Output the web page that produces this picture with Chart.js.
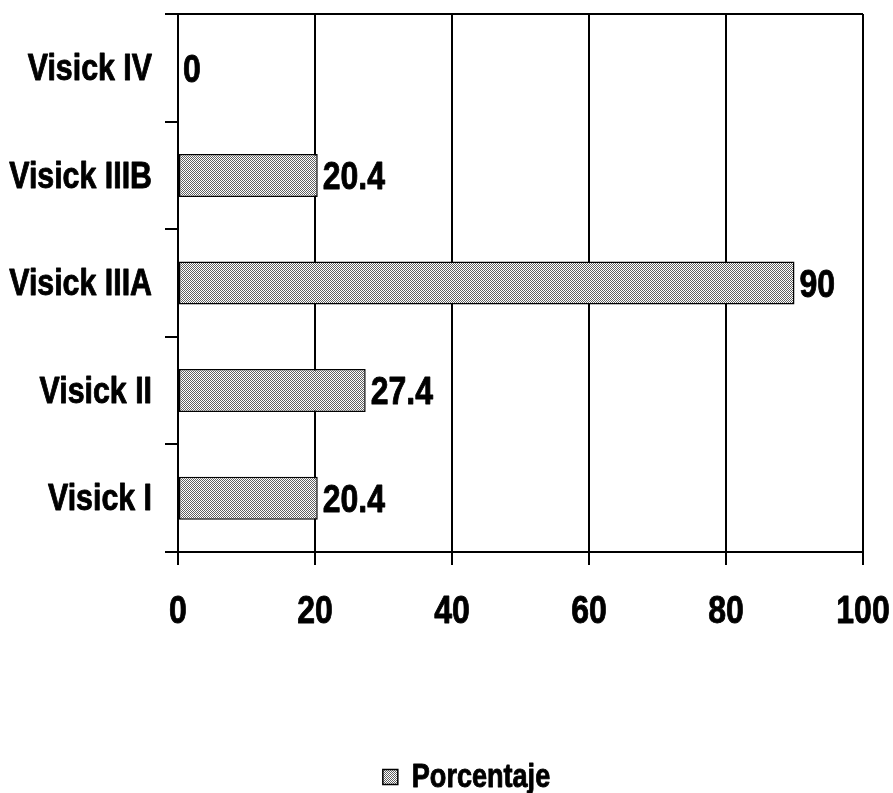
<!DOCTYPE html>
<html>
<head>
<meta charset="utf-8">
<script src="https://cdn.jsdelivr.net/npm/chart.js@4/dist/chart.umd.min.js"></script>
<style>
  html, body { margin: 0; padding: 0; background: #ffffff; }
  #wrap { width: 893px; height: 793px; }
</style>
</head>
<body>
<div id="wrap"><canvas id="c" width="893" height="793"></canvas></div>
<script>
// Categories (top to bottom) and their percentages
const categories = ['Visick IV', 'Visick IIIB', 'Visick IIIA', 'Visick II', 'Visick I'];
const porcentaje = [0, 20.4, 90, 27.4, 20.4];
const xTicks = [0, 20, 40, 60, 80, 100];
const seriesName = 'Porcentaje';

const FONT = '"Liberation Sans", Arial, sans-serif';
const NARROW = 0.82; // horizontal squeeze for the condensed bold lettering

// Fine checkered fill for the bars
function makePattern() {
  const p = document.createElement('canvas');
  p.width = 2; p.height = 2;
  const g = p.getContext('2d');
  g.fillStyle = '#ffffff'; g.fillRect(0, 0, 2, 2);
  g.fillStyle = '#606060';
  g.fillRect(0, 0, 1, 1);
  g.fillRect(1, 1, 1, 1);
  return g.createPattern(p, 'repeat');
}
const fill = makePattern();

// Draws heavy text squeezed horizontally around its anchor
function narrowText(ctx, text, x, y, align) {
  ctx.save();
  ctx.translate(x, y);
  ctx.scale(NARROW, 1);
  ctx.textAlign = align;
  ctx.strokeStyle = '#000';
  ctx.lineWidth = 0.9;
  ctx.lineJoin = 'round';
  ctx.strokeText(text, 0, 0);
  ctx.fillText(text, 0, 0);
  ctx.restore();
}

// Axis tick labels, bar values and the series key in condensed bold
const condensedText = {
  id: 'condensedText',
  afterDraw(chart) {
    const ctx = chart.ctx;
    const xs = chart.scales.x, ys = chart.scales.y;
    ctx.save();
    ctx.fillStyle = '#000';
    ctx.textBaseline = 'middle';

    ctx.font = 'bold 37px ' + FONT;
    chart.data.labels.forEach((lab, i) => {
      narrowText(ctx, lab, ys.right - 26, ys.getPixelForTick(i) + 2, 'right');
    });

    ctx.font = 'bold 39px ' + FONT;
    xTicks.forEach(v => {
      narrowText(ctx, String(v), xs.getPixelForValue(v), xs.top + 60, 'center');
    });

    const ds = chart.data.datasets[0];
    const meta = chart.getDatasetMeta(0);
    meta.data.forEach((bar, i) => {
      narrowText(ctx, String(ds.data[i]), bar.x + 5, bar.y + 3, 'left');
    });

    // series key below the axis
    ctx.font = 'bold 33px ' + FONT;
    const textW = ctx.measureText(ds.label).width * NARROW;
    const box = 15, gap = 14;
    const total = box + gap + textW;
    const cx = chart.width / 2 + 20;
    const ky = xs.top + 225;
    const kx = cx - total / 2;
    ctx.fillStyle = ds.backgroundColor;
    ctx.fillRect(kx, ky - box / 2, box, box);
    ctx.strokeStyle = '#000';
    ctx.lineWidth = 1.5;
    ctx.strokeRect(kx, ky - box / 2, box, box);
    ctx.fillStyle = '#000';
    narrowText(ctx, ds.label, kx + box + gap, ky + 1, 'left');
    ctx.restore();
  }
};

new Chart(document.getElementById('c'), {
  type: 'bar',
  data: {
    labels: categories,
    datasets: [{
      label: seriesName,
      data: porcentaje,
      backgroundColor: fill,
      borderColor: '#000',
      borderWidth: 1.5,
      borderSkipped: false,
      categoryPercentage: 1,
      barPercentage: 0.4
    }]
  },
  options: {
    indexAxis: 'y',
    responsive: false,
    animation: false,
    devicePixelRatio: 1,
    layout: { padding: { top: 14, right: 30, bottom: 0, left: 0 } },
    scales: {
      x: {
        type: 'linear',
        min: 0, max: 100,
        afterBuildTicks(scale) { scale.ticks = xTicks.map(v => ({ value: v })); },
        afterFit(scale) { scale.height = 241; },
        border: { display: true, color: '#000', width: 2 },
        grid: { color: '#000', lineWidth: 2, tickLength: 13, tickColor: '#000', drawOnChartArea: true },
        ticks: { display: false }
      },
      y: {
        afterFit(scale) { scale.width = 178; },
        border: { display: true, color: '#000', width: 2 },
        grid: {
          offset: true,
          drawOnChartArea: true,
          color: (c) => (c.index === 0 ? '#000' : 'rgba(0,0,0,0)'),
          lineWidth: 2,
          tickLength: 13,
          tickColor: '#000'
        },
        ticks: { display: false }
      }
    },
    plugins: {
      legend: { display: false },
      tooltip: { enabled: false }
    }
  },
  plugins: [condensedText]
});
</script>
</body>
</html>
